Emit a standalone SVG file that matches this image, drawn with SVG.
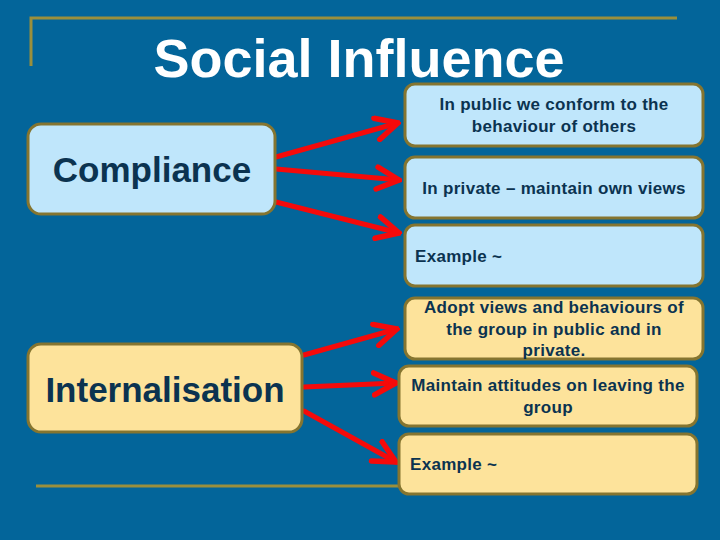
<svg xmlns="http://www.w3.org/2000/svg" width="720" height="540" viewBox="0 0 720 540">
<style>
.bg{fill:#03659a}
.rule{stroke:#9a8f3c;stroke-width:3;fill:none}
.nb{fill:#bfe6fb;stroke:#857530;stroke-width:3}
.ny{fill:#fde39b;stroke:#857530;stroke-width:3}
.t{font-family:"Liberation Sans",Arial,sans-serif;font-weight:bold;fill:#0b3350}
.big{font-size:35px}
.sm{font-size:17px;letter-spacing:0.3px}
.con{stroke:#f50a0a;stroke-width:5;fill:none;stroke-linecap:round}
</style>
<defs>
<marker id="ah" viewBox="0 0 10 10" refX="9" refY="5" markerWidth="5.5" markerHeight="5.5" markerUnits="strokeWidth" orient="auto">
<path d="M1,1 L9,5 L1,9" fill="none" stroke="#f50a0a" stroke-width="2" stroke-linejoin="miter" stroke-linecap="round"/>
</marker>
</defs>
<rect class="bg" x="0" y="0" width="720" height="540"/>
<g id="frame">
<polyline class="rule" points="31,66 31,18 677,18"/>
<line class="rule" x1="36" y1="486" x2="402" y2="486"/>
</g>
<text class="t" x="359" y="77" text-anchor="middle" font-size="54" style="fill:#ffffff">Social Influence</text>
<g id="connectors">
<line class="con" x1="276" y1="157" x2="398" y2="123" marker-end="url(#ah)"/>
<line class="con" x1="276" y1="169" x2="399" y2="180" marker-end="url(#ah)"/>
<line class="con" x1="276" y1="202" x2="399" y2="233" marker-end="url(#ah)"/>
<line class="con" x1="304" y1="355" x2="397" y2="329" marker-end="url(#ah)"/>
<line class="con" x1="304" y1="387" x2="396" y2="383" marker-end="url(#ah)"/>
<line class="con" x1="304" y1="411" x2="396" y2="462" marker-end="url(#ah)"/>
</g>
<g id="compliance">
<rect class="nb" x="28" y="124" width="247" height="90" rx="13"/>
<text class="t big" x="152" y="182" text-anchor="middle">Compliance</text>
</g>
<g id="public">
<rect class="nb" x="405" y="84" width="298" height="62" rx="10"/>
<text class="t sm" x="554" y="110" text-anchor="middle">In public we conform to the</text>
<text class="t sm" x="554" y="132" text-anchor="middle">behaviour of others</text>
</g>
<g id="private">
<rect class="nb" x="405" y="157" width="298" height="61" rx="10"/>
<text class="t sm" x="554" y="194" text-anchor="middle">In private – maintain own views</text>
</g>
<g id="example1">
<rect class="nb" x="405" y="225" width="298" height="61" rx="10"/>
<text class="t sm" x="415" y="262">Example ~</text>
</g>
<g id="internalisation">
<rect class="ny" x="28" y="344" width="274" height="88" rx="13"/>
<text class="t big" x="165" y="402" text-anchor="middle">Internalisation</text>
</g>
<g id="adopt">
<rect class="ny" x="405" y="298" width="298" height="61" rx="10"/>
<text class="t sm" x="554" y="313" text-anchor="middle">Adopt views and behaviours of</text>
<text class="t sm" x="554" y="335" text-anchor="middle">the group in public and in</text>
<text class="t sm" x="554" y="356" text-anchor="middle">private.</text>
</g>
<g id="maintain">
<rect class="ny" x="399" y="366" width="298" height="60" rx="10"/>
<text class="t sm" x="548" y="391" text-anchor="middle">Maintain attitudes on leaving the</text>
<text class="t sm" x="548" y="413" text-anchor="middle">group</text>
</g>
<g id="example2">
<rect class="ny" x="399" y="434" width="298" height="60" rx="10"/>
<text class="t sm" x="410" y="470">Example ~</text>
</g>
</svg>
